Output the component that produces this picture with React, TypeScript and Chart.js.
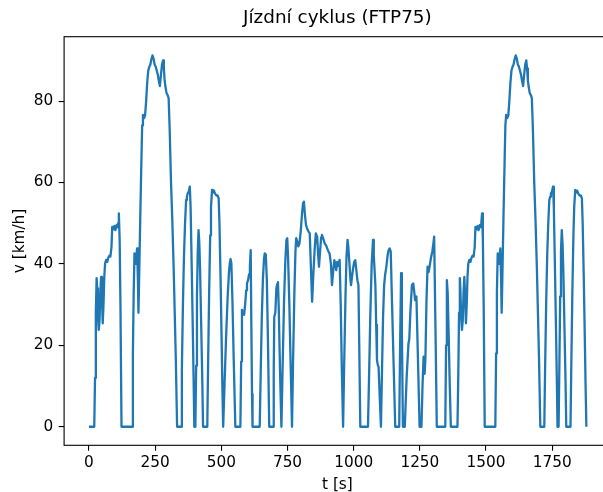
import React, { useEffect, useRef } from "react";
import { Chart, registerables } from "chart.js";

Chart.register(...registerables);

// ---- Data (time [s], speed [km/h]) ----
const coldPhaseT = [
  0, 20, 23, 26, 29, 31, 34, 37, 40, 43, 46, 49, 52, 55, 58, 61, 65, 69, 73, 77, 81, 85, 88, 92, 96, 100, 104, 107, 110, 113, 116, 119, 123,
  163, 166, 169, 172, 175, 177, 180, 182, 185, 187, 190, 194, 198, 201, 204, 208, 212, 216, 220, 224, 228, 232, 236, 240, 244, 248, 252, 256, 260, 264, 268, 272, 276, 280, 283, 286, 289, 293, 297, 301, 305, 310, 315, 320, 324, 328, 333,
  348, 351, 355, 359, 363, 367, 370, 373, 377, 381, 384, 388, 392, 395, 398,
  402, 405, 408, 411, 414, 417, 420, 424, 428, 431,
  447, 450, 454, 458, 461, 465, 468, 472, 477, 482, 486, 490, 493, 497, 501, 504, 507,
];
const coldPhaseV = [
  0, 0, 12, 28, 36.5, 34, 27, 23.8, 26, 33, 36.8, 32, 25.4, 30, 37, 40.1, 41, 40.5, 41.5, 42, 41.8, 44, 49.1, 48.5, 49.3, 48.3, 49.5, 49, 50, 52.4, 46, 30, 0,
  0, 18, 33, 42.6, 41, 40, 42.5, 43.8, 36, 28, 38, 52, 65, 74, 76.6, 75.8, 76.5, 80, 84.5, 87.5, 88.4, 89, 90.3, 91.2, 90.5, 89, 88.5, 87.5, 86.5, 85, 83.7, 86.5, 89, 90, 88, 85, 83.5, 82, 81.5, 80.7, 73, 60, 50.5, 39, 28, 17, 0,
  0, 14, 30, 42, 50, 55.7, 56.5, 57.3, 57.8, 59, 54, 40, 25, 13, 0,
  0, 15, 32, 43, 48.3, 45, 38, 25, 12, 0,
  0, 15, 33, 47, 54, 58.2, 57.5, 58, 57.2, 56.8, 56.8, 56.1, 50, 37, 22, 10, 0,
];

const stabilizedT = [
  512, 518, 524, 529, 532, 535, 538, 542, 547, 553,
  572, 575, 578, 582, 586, 590, 594, 597, 601, 605, 608, 611, 613, 616, 618,
  645, 649, 653, 657, 661, 664, 668, 672, 676, 681,
  696, 698, 700, 704, 708, 711, 714, 717, 722, 727,
  732, 737, 742, 746, 749, 752, 757, 762, 767,
  771, 776, 780, 783, 787, 791, 795, 800, 805, 809, 812, 816, 820, 824, 829, 834, 838, 843, 848, 853, 857, 862, 866, 869, 873, 877, 880, 886, 891, 896, 903, 909, 914, 918, 923, 927, 931, 934, 938, 942, 947, 951, 955, 960,
  964, 969, 973, 977, 980, 984, 988, 990, 994, 998, 1002, 1006, 1010, 1014, 1018, 1021, 1025,
  1054, 1058, 1063, 1068, 1073, 1076, 1082, 1085, 1088, 1091, 1094, 1098, 1103,
  1107, 1111, 1115, 1119, 1123, 1128, 1132, 1136, 1140, 1145, 1151, 1157,
  1172, 1175, 1179, 1182, 1186,
  1193, 1200, 1207, 1210, 1214, 1220, 1225, 1229, 1232, 1237, 1243, 1249,
  1256, 1260, 1264, 1268, 1271, 1275, 1279, 1283, 1287, 1292, 1297, 1301, 1304, 1309, 1314,
  1346, 1349, 1352, 1355, 1359, 1363, 1367,
];
const stabilizedV = [
  10, 22, 32, 38, 40.1, 41.2, 40.1, 31, 16, 0,
  0, 16, 28.7, 28, 27.5, 30, 33.5, 35.2, 36, 37.5, 39.5, 43.4, 28, 8, 0,
  0, 14, 27, 36, 41, 42.6, 42.3, 36, 22, 0,
  0, 14, 27, 28, 34, 35, 35.5, 29, 13, 0,
  16, 31, 41, 45.9, 46.3, 42, 30, 15, 0,
  16, 33, 43, 46.3, 45.5, 44.3, 45, 48, 52.5, 55, 55.3, 52, 49.5, 48.7, 48, 47.5, 40, 30.7, 38, 44, 47.5, 46.7, 42, 39.3, 43, 46.5, 47.1, 46, 45, 44.5, 43.3, 42.5, 40, 34.8, 38.5, 40.9, 40, 38.5, 40.5, 39.5, 41, 30, 15, 0,
  15, 32, 42, 45.9, 44, 40, 36, 34.8, 37, 39, 40.5, 40.9, 38.5, 36, 34.8, 20, 0,
  0, 12, 28, 40, 45.9, 42, 34.8, 25, 16.4, 15.2, 14.7, 8, 0,
  14, 27, 34.8, 37.5, 39.1, 42, 43.4, 43.8, 43, 30, 15, 0,
  0, 18, 37.7, 24, 0,
  0, 12, 20.5, 21.5, 28, 34.8, 35.2, 33, 31.1, 32, 16, 0,
  0, 10, 17.2, 13, 17, 31, 39.3, 38, 39.5, 41.5, 43, 45, 46.7, 24, 0,
  0, 20, 36, 33, 22, 10, 0,
];

const hotPhaseT = [
  1372, 1392, 1395, 1398, 1401, 1403, 1406, 1409, 1412, 1415, 1418, 1421, 1424, 1427, 1430, 1433, 1437, 1441, 1445, 1449, 1453, 1457, 1460, 1464, 1468, 1472, 1476, 1479, 1482, 1485, 1488, 1491, 1495,
  1535, 1538, 1541, 1544, 1547, 1549, 1552, 1554, 1557, 1559, 1562, 1566, 1570, 1573, 1576, 1580, 1584, 1588, 1592, 1596, 1600, 1604, 1608, 1612, 1616, 1620, 1624, 1628, 1632, 1636, 1640, 1644, 1648, 1652, 1655, 1658, 1661, 1665, 1669, 1673, 1677, 1682, 1687, 1692, 1696, 1700, 1705,
  1720, 1723, 1727, 1731, 1735, 1739, 1742, 1745, 1749, 1753, 1756, 1760, 1764, 1767, 1770,
  1774, 1777, 1780, 1783, 1786, 1789, 1792, 1796, 1800, 1803,
  1819, 1822, 1826, 1830, 1833, 1837, 1840, 1844, 1849, 1854, 1858, 1862, 1865, 1869, 1873, 1876, 1879,
];
const hotPhaseV = [
  0, 0, 12, 28, 36.5, 34, 27, 23.8, 26, 33, 36.8, 32, 25.4, 30, 37, 40.1, 41, 40.5, 41.5, 42, 41.8, 44, 49.1, 48.5, 49.3, 48.3, 49.5, 49, 50, 52.4, 46, 30, 0,
  0, 18, 33, 42.6, 41, 40, 42.5, 43.8, 36, 28, 38, 52, 65, 74, 76.6, 75.8, 76.5, 80, 84.5, 87.5, 88.4, 89, 90.3, 91.2, 90.5, 89, 88.5, 87.5, 86.5, 85, 83.7, 86.5, 89, 90, 88, 85, 83.5, 82, 81.5, 80.7, 73, 60, 50.5, 39, 28, 17, 0,
  0, 14, 30, 42, 50, 55.7, 56.5, 57.3, 57.8, 59, 54, 40, 25, 13, 0,
  0, 15, 32, 43, 48.3, 45, 38, 25, 12, 0,
  0, 15, 33, 47, 54, 58.2, 57.5, 58, 57.2, 56.8, 56.8, 56.1, 50, 37, 22, 10, 0,
];

const xTicks = [0, 250, 500, 750, 1000, 1250, 1500, 1750];
const yTicks = [0, 20, 40, 60, 80];
const titleText = "Jízdní cyklus (FTP75)";
const xLabelText = "t [s]";
const yLabelText = "v [km/h]";

const CANVAS_W = 620;
const CANVAS_H = 492;
const AREA = { left: 64.1, top: 36.7, right: 610.7, bottom: 445.3 };
const FONT = "'DejaVu Sans', 'Liberation Sans', sans-serif";

export default function App() {
  const canvasRef = useRef<HTMLCanvasElement | null>(null);

  useEffect(() => {
    const canvas = canvasRef.current;
    if (!canvas) return;

    const points: { x: number; y: number }[] = [];
    const addPhase = (ts: number[], vs: number[]) => {
      ts.forEach((t, i) => points.push({ x: t, y: vs[i] }));
    };
    addPhase(coldPhaseT, coldPhaseV);
    addPhase(stabilizedT, stabilizedV);
    addPhase(hotPhaseT, hotPhaseV);

    const framePlugin = {
      id: "framePlugin",
      afterDatasetsDraw(chart: any) {
        const { ctx, chartArea } = chart;
        ctx.save();
        ctx.strokeStyle = "#000";
        ctx.lineWidth = 1.1;
        ctx.strokeRect(chartArea.left, chartArea.top, chartArea.right - chartArea.left, chartArea.bottom - chartArea.top);
        ctx.restore();
      },
      afterDraw(chart: any) {
        const { ctx, chartArea } = chart;
        const cx = (chartArea.left + chartArea.right) / 2;
        const cy = (chartArea.top + chartArea.bottom) / 2;
        ctx.save();
        ctx.fillStyle = "#000";
        ctx.textAlign = "center";
        ctx.textBaseline = "alphabetic";
        ctx.font = `18.4px ${FONT}`;
        ctx.fillText(titleText, cx, 23.2);
        ctx.font = `15.3px ${FONT}`;
        ctx.fillText(xLabelText, cx, 489.1);
        ctx.translate(24.1, cy);
        ctx.rotate(-Math.PI / 2);
        ctx.fillText(yLabelText, 0, 0);
        ctx.restore();
      },
    };

    const tickFont = { family: FONT, size: 15.3 };
    const plainLabel = (v: any) => String(v);

    const chart = new Chart(canvas, {
      type: "line",
      data: {
        datasets: [
          {
            data: points,
            borderColor: "#1f77b4",
            borderWidth: 2.3,
            pointRadius: 0,
            fill: false,
            tension: 0,
            borderJoinStyle: "round",
          },
        ],
      },
      options: {
        responsive: false,
        animation: false,
        devicePixelRatio: 1,
        layout: { padding: { left: 0, top: AREA.top, right: CANVAS_W - AREA.right, bottom: 0 } },
        plugins: {
          legend: { display: false },
          title: { display: false },
          tooltip: { enabled: false },
        },
        scales: {
          x: {
            type: "linear",
            min: -93.85,
            max: 1970.85,
            afterBuildTicks: (s: any) => {
              s.ticks = xTicks.map((v) => ({ value: v }));
            },
            afterFit: (s: any) => {
              s.height = CANVAS_H - AREA.bottom;
            },
            grid: { drawOnChartArea: false, drawTicks: true, tickLength: 5.4, color: "#000", lineWidth: 1.1 },
            border: { display: false },
            ticks: { color: "#000", font: tickFont, padding: 3.6, maxRotation: 0, autoSkip: false, callback: plainLabel },
          },
          y: {
            type: "linear",
            min: -4.5625,
            max: 95.8125,
            afterBuildTicks: (s: any) => {
              s.ticks = yTicks.map((v) => ({ value: v }));
            },
            afterFit: (s: any) => {
              s.width = AREA.left;
            },
            grid: { drawOnChartArea: false, drawTicks: true, tickLength: 5.4, color: "#000", lineWidth: 1.1 },
            border: { display: false },
            ticks: { color: "#000", font: tickFont, padding: 5.4, autoSkip: false, callback: plainLabel },
          },
        },
      },
      plugins: [framePlugin],
    } as any);

    return () => {
      chart.destroy();
    };
  }, []);

  return (
    <div
      style={{
        position: "fixed",
        left: 0,
        top: 0,
        width: 603,
        height: 492,
        overflow: "hidden",
        background: "#fff",
      }}
    >
      <canvas
        ref={canvasRef}
        width={CANVAS_W}
        height={CANVAS_H}
        style={{ display: "block", width: CANVAS_W, height: CANVAS_H }}
      />
    </div>
  );
}
